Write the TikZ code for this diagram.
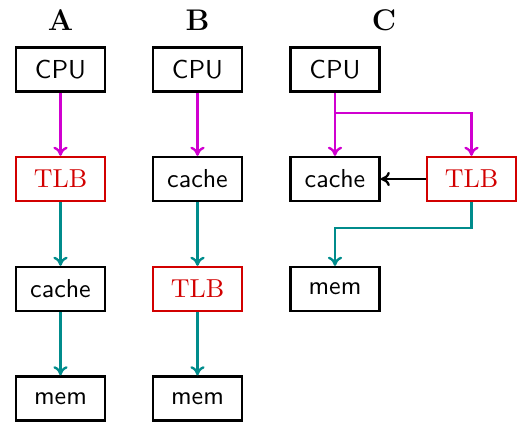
\documentclass[tikz,border=0pt]{standalone}
\usetikzlibrary{arrows.meta}
\definecolor{pathmag}{RGB}{208,0,208}
\definecolor{pathteal}{RGB}{0,140,140}
\definecolor{tlbred}{RGB}{210,0,0}
\begin{document}
\begin{tikzpicture}[x=0.385pt,y=-0.385pt,
  box/.style={draw,line width=0.95pt,minimum width=34.3pt,minimum height=16.9pt,inner sep=0pt,font=\sffamily},
  tlb/.style={box,draw=tlbred,text=tlbred,font=\rmfamily},
  title/.style={font=\fontsize{11.5}{13}\selectfont\bfseries},
  link/.style={line width=0.9pt,-{To[length=3.5pt,width=5.5pt]}},
  mag/.style={link,pathmag},
  teal/.style={link,pathteal}]
\useasboundingbox (0,0) rectangle (517,421);
% column titles
\node[title] (tA) at (60.5,20) {A};
\node[title] (tB) at (197.5,20) {B};
\node[title] (tC) at (384,20) {C};
% column A: TLB before cache
\node[box] (a1) at (60.5,69.5) {CPU};
\node[tlb] (a2) at (60.5,179) {TLB};
\node[box] (a3) at (60.5,289) {cache};
\node[box] (a4) at (60.5,398.5) {mem};
\draw[mag] (a1) -- (a2);
\draw[teal] (a2) -- (a3);
\draw[teal] (a3) -- (a4);
% column B: cache before TLB
\node[box] (b1) at (197.5,69.5) {CPU};
\node[box] (b2) at (197.5,179) {cache};
\node[tlb] (b3) at (197.5,289) {TLB};
\node[box] (b4) at (197.5,398.5) {mem};
\draw[mag] (b1) -- (b2);
\draw[teal] (b2) -- (b3);
\draw[teal] (b3) -- (b4);
% column C: cache and TLB in parallel
\node[box] (c1) at (335,69.5) {CPU};
\node[box] (c2) at (335,179) {cache};
\node[tlb] (c3) at (471.5,179) {TLB};
\node[box] (c4) at (335,289) {mem};
\coordinate (split) at (335,113);
\coordinate (join) at (335,228);
\draw[mag] (c1) -- (c2);
\draw[mag] (split) -| (c3);
\draw[link] (c3) -- (c2);
\draw[teal] (c3.south) |- (join) -- (c4);
\end{tikzpicture}
\end{document}
